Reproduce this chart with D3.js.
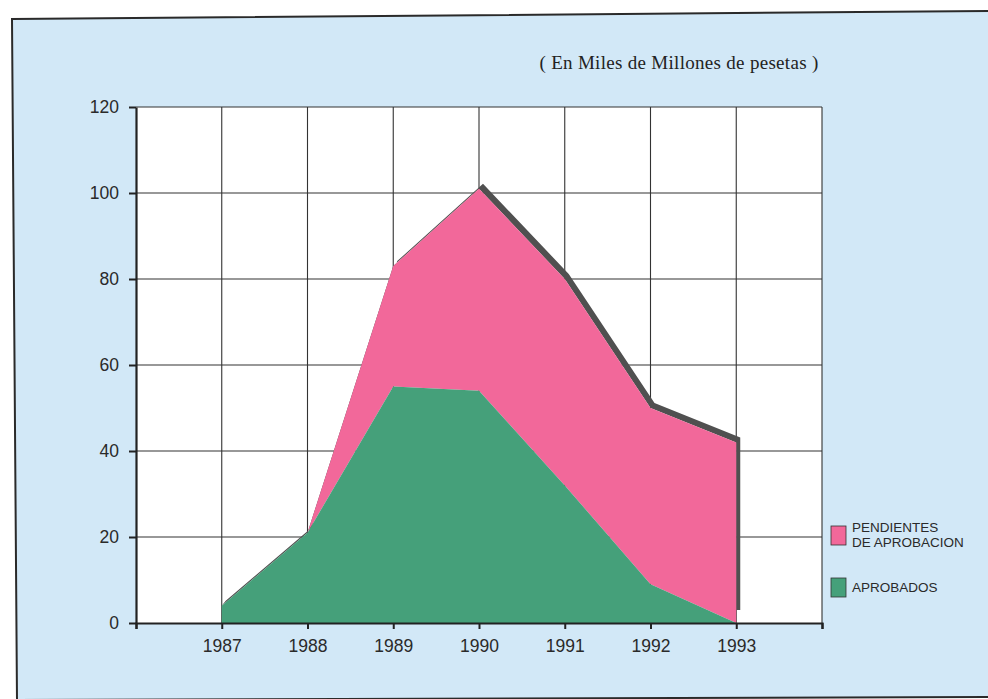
<!DOCTYPE html>
<html><head><meta charset="utf-8">
<script src="https://cdn.jsdelivr.net/npm/d3@7/dist/d3.min.js"></script>
<style>
html,body{margin:0;padding:0;background:#fff;}
svg{display:block;}
</style></head>
<body>
<svg id="chart" width="988" height="699"></svg>
<script>
// ---- data ----
const years = [1987, 1988, 1989, 1990, 1991, 1992, 1993];
const aprobados = [4, 21, 55, 54, 32, 9, 0];
const pendientes = [0, 0, 28, 47, 48, 41, 42];
const yTicks = [0, 20, 40, 60, 80, 100, 120];
const xTicks = [1986, 1987, 1988, 1989, 1990, 1991, 1992, 1993, 1994];
const xTickLabels = ["", "1987", "1988", "1989", "1990", "1991", "1992", "1993", ""];
const seriesNames = ["PENDIENTES|DE APROBACION", "APROBADOS"];
const title = "( En Miles de Millones de pesetas )";

const colors = { pend: "#f2689a", aprob: "#45a07a", shadow: "#505050", bg: "#d2e8f7" };

const svg = d3.select("#chart");

// background frame (slightly skewed like the scanned page)
svg.append("polygon")
  .attr("points", "12,19 990,11 990,697 17,700")
  .attr("fill", colors.bg)
  .attr("stroke", "#2a2a2a")
  .attr("stroke-width", 2);

const x = d3.scaleLinear().domain([1986, 1994]).range([136, 822]);
const y = d3.scaleLinear().domain([0, 120]).range([623, 107]);

// plot area
svg.append("rect")
  .attr("x", x(1986)).attr("y", y(120))
  .attr("width", x(1994) - x(1986)).attr("height", y(0) - y(120))
  .attr("fill", "#fff");

// grid
const grid = svg.append("g").attr("stroke", "#333").attr("stroke-width", 1.1);
grid.selectAll("line.h").data(yTicks.filter(d => d > 0)).join("line")
  .attr("x1", x(1986)).attr("x2", x(1994))
  .attr("y1", d => y(d)).attr("y2", d => y(d));
grid.selectAll("line.v").data(xTicks.filter(d => d > 1986)).join("line")
  .attr("x1", d => x(d)).attr("x2", d => x(d))
  .attr("y1", y(0)).attr("y2", y(120));

// stacked data
const rows = years.map((yr, i) => ({ year: yr, aprob: aprobados[i], pend: pendientes[i] }));
const stack = d3.stack().keys(["aprob", "pend"])(rows);

// shadow (3D edge along the total)
const dx = 4, dy = 5;
const topPts = rows.map(r => [x(r.year), y(r.aprob + r.pend)]);
const shiftedPts = topPts.map(p => [p[0] + dx, p[1] - dy]);
const last = rows[rows.length - 1];
const shadowPts = shiftedPts
  .concat([[x(last.year) + dx, y(3)], [x(last.year), y(3)]])
  .concat(topPts.slice().reverse());
svg.append("path")
  .attr("d", d3.line()(shadowPts) + "Z")
  .attr("fill", colors.shadow);

const area = d3.area()
  .x(d => x(d.data.year))
  .y0(d => y(d[0]))
  .y1(d => y(d[1]));

svg.append("path").datum(stack[1]).attr("d", area).attr("fill", colors.pend);
svg.append("path").datum(stack[0]).attr("d", area).attr("fill", colors.aprob);

// axes
const tickFont = "'Liberation Sans Narrow','Arial Narrow','Liberation Sans',Arial,sans-serif";
const xAxis = d3.axisBottom(x).tickValues(xTicks).tickSize(6).tickPadding(8)
  .tickFormat((d, i) => xTickLabels[i]);
const gx = svg.append("g").attr("transform", `translate(0,${y(0)})`).call(xAxis);
gx.select(".domain").attr("stroke", "#222").attr("stroke-width", 2.2);
gx.selectAll(".tick line").attr("stroke", "#222").attr("stroke-width", 2);
gx.selectAll("text").attr("font-family", tickFont).attr("font-size", 17.5)
  .attr("fill", "#2a2a2a").attr("dy", "0.85em");

const yAxis = d3.axisLeft(y).tickValues(yTicks).tickSize(7).tickPadding(10).tickSizeOuter(0);
const gy = svg.append("g").attr("transform", `translate(${x(1986)},0)`).call(yAxis);
gy.select(".domain").attr("stroke", "#222").attr("stroke-width", 2.2);
gy.selectAll(".tick line").attr("stroke", "#222").attr("stroke-width", 2);
gy.selectAll("text").attr("font-family", tickFont).attr("font-size", 17.5)
  .attr("fill", "#2a2a2a");

// title
svg.append("text")
  .attr("x", 679).attr("y", 69)
  .attr("text-anchor", "middle")
  .attr("font-family", "'Liberation Serif','Times New Roman',serif")
  .attr("font-size", 19)
  .attr("letter-spacing", 0.3)
  .attr("fill", "#222")
  .text(title);

// legend
const legend = svg.append("g").attr("font-family", "'Liberation Sans',Arial,sans-serif")
  .attr("font-size", 13.5).attr("fill", "#2a2a2a");
const legendItems = [
  { name: seriesNames[0], color: colors.pend, y: 526 },
  { name: seriesNames[1], color: colors.aprob, y: 578 }
];
legendItems.forEach(it => {
  legend.append("rect").attr("x", 831).attr("y", it.y).attr("width", 15).attr("height", 19)
    .attr("fill", it.color).attr("stroke", "#333").attr("stroke-width", 0.8);
  const lines = it.name.split("|");
  lines.forEach((ln, j) => {
    legend.append("text").attr("x", 852)
      .attr("y", lines.length > 1 ? it.y + 6 + j * 14.5 : it.y + 14)
      .text(ln);
  });
});
</script>
</body></html>
